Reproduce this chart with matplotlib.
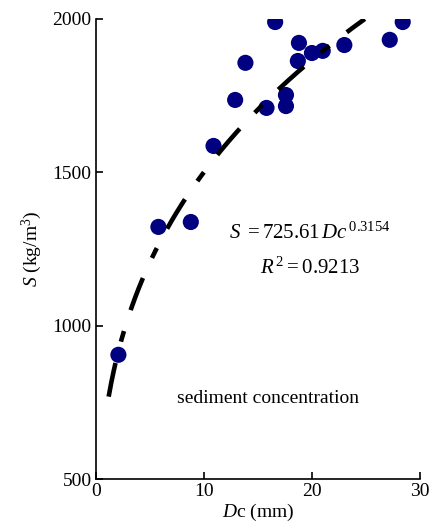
import numpy as np
import matplotlib
matplotlib.use("Agg")
import matplotlib.pyplot as plt

plt.rcParams['font.family'] = ['Liberation Serif', 'DejaVu Serif']
plt.rcParams['mathtext.fontset'] = 'custom'
plt.rcParams['mathtext.rm'] = 'Liberation Serif'
plt.rcParams['mathtext.it'] = 'Liberation Serif:italic'

# Data
dc = [2.1, 5.8, 8.8, 10.9, 12.9, 13.85, 15.8, 16.6, 17.6, 17.6, 18.7, 18.8, 20.0, 21.0, 23.0, 27.2, 28.4]
s = [905, 1322, 1338, 1586, 1736, 1857, 1710, 1990, 1752, 1716, 1863, 1922, 1889, 1896, 1915, 1932, 1990]
coef_a = 725.61
coef_b = 0.3154
r2 = 0.9213
xticks = [0, 10, 20, 30]
yticks = [500, 1000, 1500, 2000]

fig = plt.figure(figsize=(4.33, 5.30), dpi=100)
ax = fig.add_axes([0.221, 0.0962, 0.749, 0.868])

xf = np.linspace(1.2, (2000 / coef_a) ** (1 / coef_b), 300)
yf = coef_a * xf ** coef_b
ax.scatter(dc, s, s=135, color='#000080', zorder=2, edgecolors='none')
ax.plot(xf, yf, color='black', lw=3.3, dashes=(7.5, 4.8, 2.4, 4.8),
        solid_capstyle='butt', dash_capstyle='butt', zorder=3)

ax.set_xlim(0, 30)
ax.set_ylim(500, 2000)
ax.set_xticks(xticks)
ax.set_yticks(yticks)
ax.tick_params(direction='in', length=5, width=1.2, labelsize=14, pad=3)
for sp in ['top', 'right']:
    ax.spines[sp].set_visible(False)
for sp in ['left', 'bottom']:
    ax.spines[sp].set_linewidth(1.2)

ax.set_xlabel(r'$\mathit{D}$c (mm)', fontsize=14, labelpad=1)
ax.set_ylabel(r'$\mathit{S}$ (kg/m$^3$)', fontsize=14, labelpad=6)

ax.text(19.85, 1302, r'$\mathit{S}\ =725.61\,\mathit{Dc}^{\,0.3154}$', fontsize=15, ha='center', va='center')
ax.text(19.85, 1188, r'$\mathit{R}^{\,2}=0.9213$', fontsize=15, ha='center', va='center')
ax.text(15.9, 761, 'sediment concentration', fontsize=14, ha='center', va='center')

fig.savefig('out.png', dpi=100)
